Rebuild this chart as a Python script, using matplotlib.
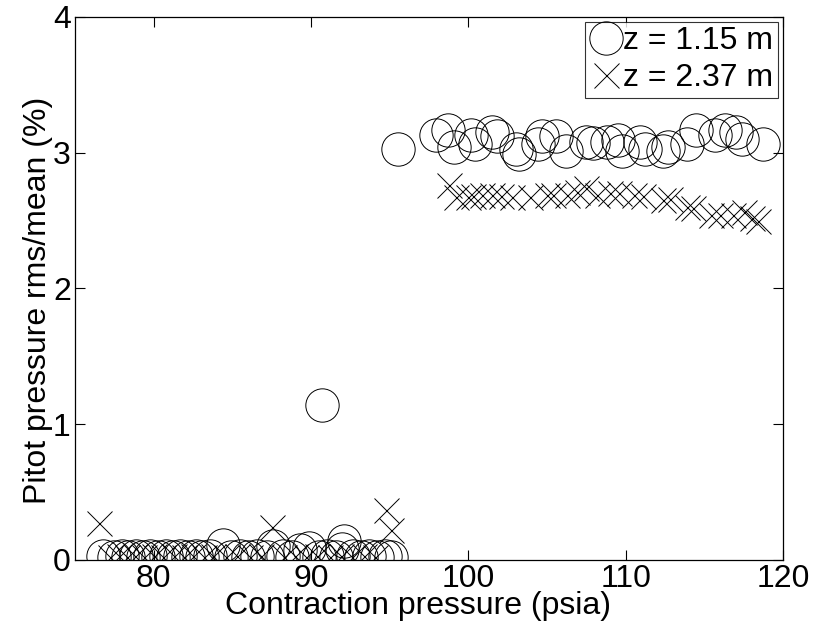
import matplotlib
matplotlib.use("Agg")
import matplotlib.pyplot as plt

# z = 1.15 m, contraction pressure (psia) vs pitot rms/mean (%)
p_near = [76.8, 77.5, 78.0, 78.4, 78.9, 79.3, 79.8, 80.3, 80.8, 81.2, 81.7,
          82.2, 82.7, 83.1, 83.6, 84.4, 84.9, 85.5, 86.0, 86.6, 87.2, 87.6,
          88.2, 88.8, 89.3, 89.9, 90.5, 90.7, 91.0, 91.6, 92.0, 92.1, 92.7,
          93.2, 93.7, 94.2, 94.7, 95.1, 95.5,
          97.95, 98.7, 99.1, 100.2, 100.4, 101.5, 101.8, 103.0, 103.2, 104.4,
          104.7, 105.6, 106.2, 107.5, 107.9, 108.8, 109.5, 109.8, 110.9,
          111.2, 112.4, 112.7, 113.9, 114.5, 115.7, 116.3, 117.0, 117.4,
          118.7]
rms_near = [0.03, 0.02, 0.03, 0.02, 0.03, 0.02, 0.03, 0.02, 0.03, 0.02, 0.03,
            0.02, 0.03, 0.02, 0.03, 0.11, 0.02, 0.03, 0.02, 0.03, 0.02, 0.10,
            0.03, 0.02, 0.07, 0.09, 0.02, 1.14, 0.03, 0.02, 0.08, 0.14, 0.03,
            0.02, 0.03, 0.02, 0.03, 0.02, 3.03,
            3.13, 3.17, 3.04, 3.13, 3.06, 3.15, 3.12, 3.03, 2.99, 3.06,
            3.12, 3.12, 3.01, 3.08, 3.07, 3.08, 3.09, 3.01, 3.08,
            3.03, 3.01, 3.04, 3.06, 3.17, 3.13, 3.17, 3.15, 3.10,
            3.06]

# z = 2.37 m
p_far = [76.5, 77.2, 77.8, 78.3, 78.8, 79.4, 80.0, 80.6, 81.3, 81.9, 82.5,
         83.2, 83.8, 84.6, 85.3, 86.1, 86.8, 87.5, 88.3, 89.0, 89.7, 90.4,
         91.2, 91.9, 92.6, 93.4, 94.1, 94.8, 95.1,
         98.8, 99.2, 100.0, 100.3, 100.9, 101.5, 102.1, 102.8, 103.9, 105.0,
         105.4, 106.3, 106.9, 107.5, 108.2, 109.0, 109.6, 110.5, 111.1,
         112.4, 112.8, 113.9, 114.3, 115.4, 116.0, 116.8, 117.5, 118.0,
         118.4]
rms_far = [0.27, 0.02, 0.03, 0.02, 0.03, 0.02, 0.03, 0.02, 0.03, 0.02, 0.03,
           0.02, 0.03, 0.02, 0.03, 0.02, 0.03, 0.24, 0.02, 0.03, 0.02, 0.03,
           0.02, 0.03, 0.02, 0.03, 0.02, 0.37, 0.22,
           2.76, 2.67, 2.67, 2.68, 2.69, 2.69, 2.68, 2.67, 2.67, 2.69,
           2.69, 2.69, 2.71, 2.74, 2.69, 2.70, 2.70, 2.69, 2.68,
           2.65, 2.66, 2.60, 2.59, 2.54, 2.54, 2.54, 2.56, 2.52,
           2.50]

plt.rcParams["font.family"] = ["Liberation Sans", "DejaVu Sans"]
FS = 23

fig = plt.figure(figsize=(8.15, 6.36), dpi=100)
ax = fig.add_axes([0.092, 0.1195, 0.8687, 0.854])

ax.plot(p_near, rms_near, linestyle="none", marker="o", markersize=24,
        markerfacecolor="none", markeredgecolor="black", markeredgewidth=0.7,
        label="z = 1.15 m")
ax.plot(p_far, rms_far, linestyle="none", marker="x", markersize=18,
        color="black", markeredgewidth=0.7, label="z = 2.37 m")

ax.set_xlim(75, 120)
ax.set_ylim(0, 4)
ax.set_xticks([80, 90, 100, 110, 120])
ax.set_yticks([0, 1, 2, 3, 4])
ax.tick_params(direction="in", top=True, right=True, length=7, width=0.8,
               labelsize=FS, pad=3)
for s in ax.spines.values():
    s.set_linewidth(0.9)

ax.set_xlabel("Contraction pressure (psia)", fontsize=FS, labelpad=-2)
ax.set_ylabel("Pitot pressure rms/mean (%)", fontsize=FS, labelpad=0)
ax.xaxis.label.set_x(0.485)
ax.yaxis.label.set_y(0.478)

leg = ax.legend(loc="upper right", fontsize=FS, frameon=True, fancybox=False,
                handlelength=1.0, handletextpad=0.05, borderpad=0.15,
                borderaxespad=0.15, labelspacing=0.2)
leg.get_frame().set_edgecolor("black")
leg.get_frame().set_linewidth(0.8)

fig.savefig("out.png", dpi=100)
